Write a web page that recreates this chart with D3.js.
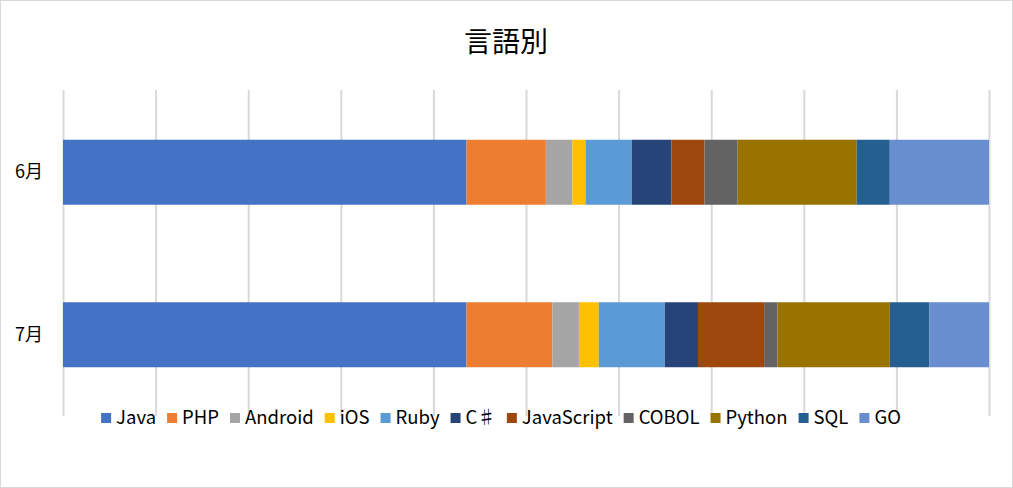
<!DOCTYPE html>
<html>
<head>
<meta charset="utf-8">
<title>言語別</title>
<style>
  body { margin: 0; background: #fff; }
  svg text { font-family: "Noto Sans CJK JP", "Noto Sans", sans-serif; fill: #000; }
</style>
</head>
<body>
<script src="https://cdn.jsdelivr.net/npm/d3@7/dist/d3.min.js"></script>
<script>
  // data (counts per language, shown as 100% stacked)
  var months = ['6月', '7月'];
  var languages = ['Java', 'PHP', 'Android', 'iOS', 'Ruby', 'C♯', 'JavaScript', 'COBOL', 'Python', 'SQL', 'GO'];
  var june = [61, 12, 4, 2, 7, 6, 5, 5, 18, 5, 15];
  var july = [61, 13, 4, 3, 10, 5, 10, 2, 17, 6, 9];
  var colors = ['#4472C4', '#ED7D31', '#A5A5A5', '#FFC000', '#5B9BD5', '#264478',
                '#9E480E', '#636363', '#997300', '#255E91', '#698ED0'];
  var ticks = [0, 0.1, 0.2, 0.3, 0.4, 0.5, 0.6, 0.7, 0.8, 0.9, 1];

  var width = 1013, height = 488;
  var margin = { top: 91, left: 63, bottom: 72, right: 24 };

  // rows for d3.stack
  var rows = [june, july].map(function (vals, i) {
    var r = { month: months[i] };
    languages.forEach(function (l, j) { r[l] = vals[j]; });
    return r;
  });

  var series = d3.stack().keys(languages).offset(d3.stackOffsetExpand)(rows);

  var x = d3.scaleLinear().domain([0, 1]).range([margin.left, width - margin.right]);
  var y = d3.scaleBand().domain(months)
    .range([margin.top, height - margin.bottom])
    .paddingInner(0.6).paddingOuter(0.3);
  var color = d3.scaleOrdinal().domain(languages).range(colors);

  var svg = d3.select('body').append('svg')
    .attr('width', width)
    .attr('height', height);

  // chart frame
  svg.append('rect')
    .attr('x', 0.5).attr('y', 0.5)
    .attr('width', width - 1).attr('height', height - 1)
    .attr('fill', '#fff').attr('stroke', '#d9d9d9');

  // title
  svg.append('text')
    .attr('x', 506).attr('y', 52)
    .attr('text-anchor', 'middle')
    .attr('font-size', 28)
    .text('言語別');

  // vertical gridlines
  var grid = svg.append('g')
    .attr('transform', 'translate(0,' + (height - margin.bottom) + ')')
    .call(d3.axisBottom(x).tickValues(ticks)
      .tickSize(-(height - margin.bottom - margin.top + 1)).tickFormat(''));
  grid.select('.domain').remove();
  grid.selectAll('line').attr('stroke', '#d9d9d9').attr('stroke-width', 2);

  // bars
  svg.append('g').selectAll('g')
    .data(series)
    .join('g')
      .attr('fill', function (d) { return color(d.key); })
    .selectAll('rect')
    .data(function (d) { return d; })
    .join('rect')
      .attr('x', function (d) { return x(d[0]); })
      .attr('y', function (d) { return y(d.data.month); })
      .attr('width', function (d) { return x(d[1]) - x(d[0]); })
      .attr('height', y.bandwidth());

  // category axis
  var yAxis = svg.append('g')
    .attr('transform', 'translate(' + margin.left + ',0)')
    .call(d3.axisLeft(y).tickSize(0).tickPadding(20));
  yAxis.select('.domain').remove();
  yAxis.selectAll('text')
    .attr('font-size', 18)
    .attr('fill', '#000')
    .style('font-family', '"Noto Sans CJK JP", sans-serif');

  // legend
  var legend = svg.append('g');
  var cx = 0;
  languages.forEach(function (l) {
    var item = legend.append('g').attr('transform', 'translate(' + cx + ',0)');
    item.append('rect')
      .attr('x', 0).attr('y', -11)
      .attr('width', 10).attr('height', 10)
      .attr('fill', color(l));
    var t = item.append('text')
      .attr('x', 15).attr('y', 0)
      .attr('font-size', 18.5)
      .text(l);
    cx += 15 + t.node().getComputedTextLength() + 11;
  });
  cx -= 11;
  legend.attr('transform', 'translate(' + (501 - cx / 2) + ',424)');
</script>
</body>
</html>
